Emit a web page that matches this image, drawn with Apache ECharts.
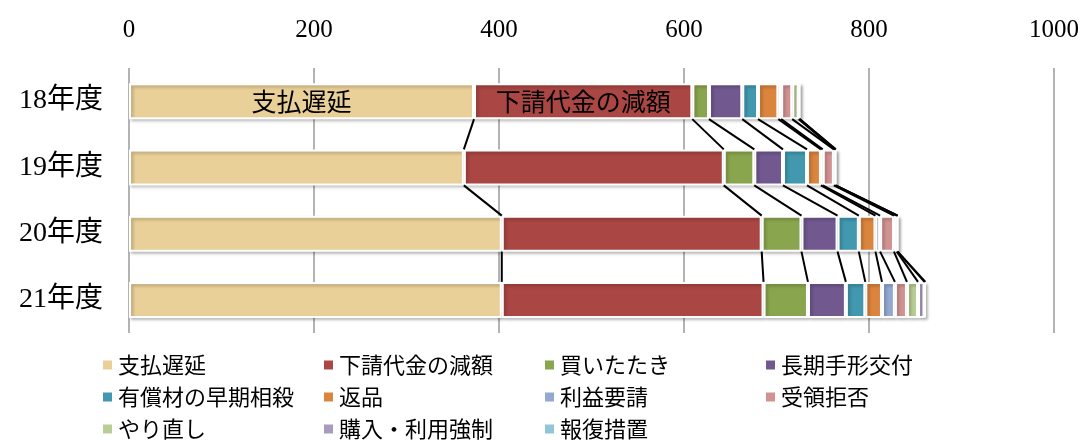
<!DOCTYPE html>
<html><head><meta charset="utf-8">
<script src="https://cdn.jsdelivr.net/npm/echarts@6/dist/echarts.min.js"></script>
<style>html,body{margin:0;padding:0;background:#fff}#c{width:1086px;height:441px}</style>
</head><body><div id="c"></div>
<script>
var categories = ['18年度','19年度','20年度','21年度'];
var xTicks = [0,200,400,600,800,1000];
var seriesNames = ['支払遅延','下請代金の減額','買いたたき','長期手形交付','有償材の早期相殺','返品','利益要請','受領拒否','やり直し','購入・利用強制','報復措置'];
var s_shiharai = [373, 362, 403, 403];
var s_gengaku  = [236, 281, 281, 283];
var s_kaitataki= [18, 33, 43, 48];
var s_tegata   = [36, 31, 39, 41];
var s_sousai   = [17, 26, 23, 21];
var s_henpin   = [22, 15, 18, 18];
var s_rieki    = [3, 2, 5, 14];
var s_juryo    = [12, 12, 15, 13];
var s_yarinaoshi=[7, 1, 3, 12];
var s_kounyu   = [1, 1, 1, 7];
var s_houfuku  = [0, 0, 0, 1];
var allValues = [s_shiharai,s_gengaku,s_kaitataki,s_tegata,s_sousai,s_henpin,s_rieki,s_juryo,s_yarinaoshi,s_kounyu,s_houfuku];
var colors = ['#e9cf98','#aa4643','#89a54e','#71588f','#4198af','#db843d','#93a9cf','#d19392','#b9cd96','#a99bbd','#92c5d8'];
var BAR_W = 36;

var chart = echarts.init(document.getElementById('c'));
var series = seriesNames.map(function(name, k){
  var s = {
    name: name, type: 'bar', stack: 'total', barWidth: BAR_W,
    data: allValues[k],
    itemStyle: {color: colors[k], borderColor: '#fff', borderWidth: 2,
      shadowColor: 'rgba(0,0,0,0.25)', shadowBlur: 3, shadowOffsetX: 2, shadowOffsetY: 2},
    emphasis: {disabled: true},
    z: 2
  };
  if (k === 0 || k === 1) {
    s.label = {show: true, position: 'inside', color: '#000', fontSize: 25,
      fontFamily: 'Noto Sans CJK JP',
      formatter: function(p){ return p.dataIndex === 0 ? p.seriesName : ''; }};
  }
  return s;
});
series.push({
  type: 'custom', name: 'serieslines', silent: true, z: 5,
  data: [0,1,2],
  renderItem: function(params, api){
    var i = params.dataIndex;
    var children = [];
    var cumA = 0, cumB = 0;
    for (var k = 0; k < allValues.length; k++) {
      cumA += allValues[k][i];
      cumB += allValues[k][i+1];
      var a = api.coord([cumA, i]);
      var b = api.coord([cumB, i+1]);
      children.push({type: 'line', shape: {x1: a[0], y1: a[1] + BAR_W/2, x2: b[0], y2: b[1] - BAR_W/2},
        style: {stroke: '#000', lineWidth: 2}});
    }
    return {type: 'group', children: children};
  }
});

chart.setOption({
  animation: false,
  color: colors,
  grid: {left: 129, right: 32, top: 68, bottom: 108},
  xAxis: {type: 'value', position: 'top', min: xTicks[0], max: xTicks[xTicks.length-1], interval: 200,
    axisLine: {show: false}, axisTick: {show: false},
    axisLabel: {fontSize: 25, color: '#000', fontFamily: 'Liberation Serif', margin: 25,
      formatter: function(v){ return String(v); }},
    splitLine: {show: true, lineStyle: {color: '#9a9a9a', width: 1.5}}},
  yAxis: {type: 'category', data: categories, inverse: true,
    axisLine: {show: false}, axisTick: {show: false},
    axisLabel: {fontSize: 28, color: '#000', fontFamily: 'Liberation Serif, Noto Sans CJK JP', margin: 26}},
  legend: {
    data: seriesNames, left: 96, top: 349, width: 900,
    icon: 'rect', itemWidth: 11, itemHeight: 11, itemGap: 10,
    textStyle: {fontSize: 22, color: '#000', fontFamily: 'Noto Sans CJK JP', width: 194, lineHeight: 21, overflow: 'truncate'}
  },
  series: series
});
</script></body></html>
